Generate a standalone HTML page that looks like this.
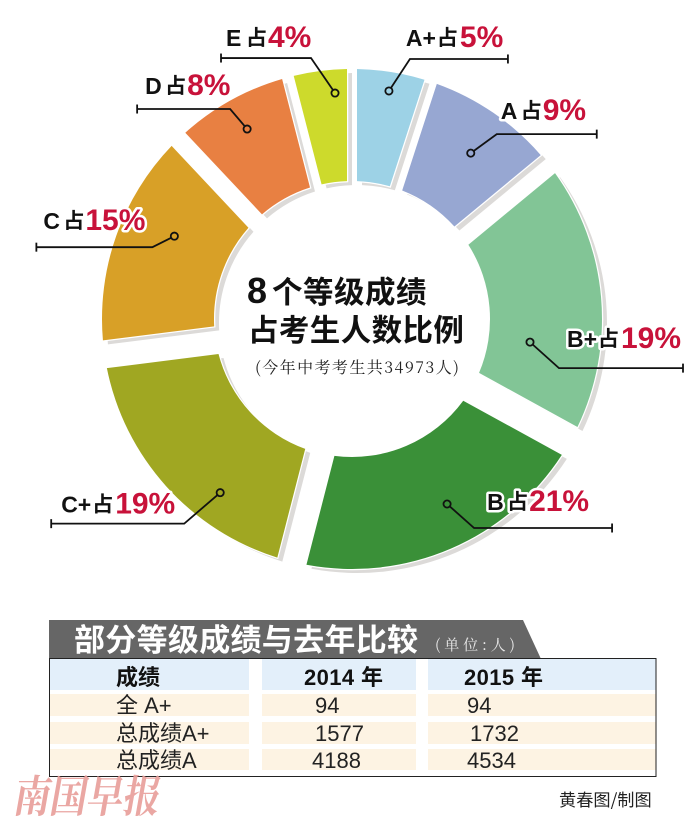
<!DOCTYPE html>
<html lang="zh">
<head>
<meta charset="utf-8">
<title>8个等级成绩占考生人数比例</title>
<style>
html,body{margin:0;padding:0;background:#fff;}
body{width:696px;height:824px;overflow:hidden;}
svg{display:block;}
text{font-family:"Liberation Sans","Noto Sans CJK SC",sans-serif;}
.cjk{font-family:"Noto Sans CJK SC","Liberation Sans",sans-serif;}
.thin{font-family:"Noto Serif CJK SC","Liberation Serif",serif;}
.cell{font-size:22px;fill:#222;}
.head{font-size:22px;font-weight:700;fill:#111;}
</style>
</head>
<body>
<svg id="chart" xmlns="http://www.w3.org/2000/svg" width="696" height="824" viewBox="0 0 696 824">
  <g id="donut"></g>
  <g id="center-title">
    <text x="247" y="303" font-size="36" font-weight="700" fill="#111">8</text>
    <text class="cjk" x="272" y="303" font-size="30.5" font-weight="700" fill="#111" letter-spacing="0.5">个等级成绩</text>
    <text class="cjk" x="248" y="341" font-size="30.5" font-weight="700" fill="#111" letter-spacing="0.4">占考生人数比例</text>
    <text class="thin" x="255" y="373" font-size="16" fill="#222" textLength="204" lengthAdjust="spacing">(今年中考考生共34973人)</text>
  </g>
  <g id="table">
    <polygon points="49,620 523,620 541,659 49,659" fill="#666666"/>
    <text class="cjk" x="74" y="651" font-size="31" font-weight="700" fill="#fff" letter-spacing="0.3">部分等级成绩与去年比较</text>
    <text class="thin" x="435" y="650" font-size="15" fill="#e8e8e8" textLength="80" lengthAdjust="spacing">(单位:人)</text>
    <rect x="49.5" y="658.5" width="606.5" height="118" fill="#fff" stroke="#222" stroke-width="1"/>
    <rect x="50" y="659" width="199" height="31" fill="#e3effa"/>
    <rect x="262" y="659" width="154" height="31" fill="#e3effa"/>
    <rect x="428" y="659" width="227.5" height="31" fill="#e3effa"/>
    <rect x="50" y="694" width="199" height="22" fill="#fdf3e3"/>
    <rect x="262" y="694" width="154" height="22" fill="#fdf3e3"/>
    <rect x="428" y="694" width="227.5" height="22" fill="#fdf3e3"/>
    <rect x="50" y="722" width="199" height="22" fill="#fdf3e3"/>
    <rect x="262" y="722" width="154" height="22" fill="#fdf3e3"/>
    <rect x="428" y="722" width="227.5" height="22" fill="#fdf3e3"/>
    <rect x="50" y="749" width="199" height="21" fill="#fdf3e3"/>
    <rect x="262" y="749" width="154" height="21" fill="#fdf3e3"/>
    <rect x="428" y="749" width="227.5" height="21" fill="#fdf3e3"/>
    <text class="head cjk" x="116" y="685">成绩</text>
    <text class="head" x="304" y="685" letter-spacing="0.4">2014 年</text>
    <text class="head" x="464" y="685" letter-spacing="0.4">2015 年</text>
    <text class="cell" x="116" y="713">全 A+</text>
    <text class="cell" x="315" y="713">94</text>
    <text class="cell" x="467" y="713">94</text>
    <text class="cell" x="116" y="741">总成绩A+</text>
    <text class="cell" x="315" y="741">1577</text>
    <text class="cell" x="470" y="741">1732</text>
    <text class="cell" x="116" y="768">总成绩A</text>
    <text class="cell" x="312" y="768">4188</text>
    <text class="cell" x="467" y="768">4534</text>
  </g>
  <text class="cjk" x="559" y="806" font-size="17.2" fill="#222">黄春图/制图</text>
  <text class="thin" transform="translate(12,812) scale(0.83,1) skewX(-12)" font-size="44" font-weight="700" fill="#e9a09c" opacity="0.92">南国早报</text>
</svg>
<script>
// Chart data
var categories = ['A+', 'A', 'B+', 'B', 'C+', 'C', 'D', 'E'];
var shares = [5, 9, 19, 21, 19, 15, 8, 4];

// Styling and layout (separate from the data)
var sliceColors = ['#9dd2e6', '#97a7d2', '#82c596', '#3a9038', '#a0a722', '#d8a027', '#e88042', '#cdda2c'];
var startTrims = [5, 8, 17, 18, 13, 10, 6, 4];
var endTrims = [5, 6, 14, 17, 18, 13, 8, 5];
var leaderLayout = [
  {r: 231, da: 0.2, ex: 21, ey: -32, end: 119, tx: 17, ty: -45},
  {r: 204, da: 1.4, ex: 26, ey: -19, end: 126, tx: 30, ty: -34},
  {r: 179.5, da: 12.8, ex: 29, ey: 26, end: 153, tx: 37, ty: 5},
  {r: 208, da: -3.8, ex: 27, ey: 24, end: 165, tx: 40, ty: 6},
  {r: 218, da: -11.4, ex: -36, ey: 31, end: -169, tx: -159, ty: 20},
  {r: 196, da: 5.2, ex: -22, ey: 11, end: -138, tx: -131, ty: -7},
  {r: 217, da: -0.1, ex: -17, ey: -20, end: -110, tx: -102, ty: -35},
  {r: 226.6, da: 2.9, ex: -24, ey: -35, end: -114, tx: -109, ty: -47}
];
var CX = 352, CY = 319, OUTER = 250, INNER = 138;
var NS = 'http://www.w3.org/2000/svg';
var donut = document.getElementById('donut');

function shareTotal() {
  var t = 0;
  for (var i = 0; i < shares.length; i++) t += shares[i];
  return t;
}
function angleScale(v) { return v / shareTotal() * 360; }
function polar(deg, rad) {
  var a = deg * Math.PI / 180;
  return [CX + rad * Math.sin(a), CY - rad * Math.cos(a)];
}
function trimDeg(trim, rad) { return Math.asin(trim / rad) * 180 / Math.PI; }
function wedgePath(a0, a1, sTrim, eTrim) {
  var p1 = polar(a0 + trimDeg(sTrim, OUTER), OUTER);
  var p2 = polar(a1 - trimDeg(eTrim, OUTER), OUTER);
  var p3 = polar(a1 - trimDeg(eTrim, INNER), INNER);
  var p4 = polar(a0 + trimDeg(sTrim, INNER), INNER);
  var large = (a1 - a0) > 180 ? 1 : 0;
  return 'M' + p1[0].toFixed(2) + ' ' + p1[1].toFixed(2) +
    ' A' + OUTER + ' ' + OUTER + ' 0 ' + large + ' 1 ' + p2[0].toFixed(2) + ' ' + p2[1].toFixed(2) +
    ' L' + p3[0].toFixed(2) + ' ' + p3[1].toFixed(2) +
    ' A' + INNER + ' ' + INNER + ' 0 ' + large + ' 0 ' + p4[0].toFixed(2) + ' ' + p4[1].toFixed(2) + ' Z';
}
function make(tag, attrs, parent) {
  var el = document.createElementNS(NS, tag);
  for (var k in attrs) el.setAttribute(k, attrs[k]);
  (parent || donut).appendChild(el);
  return el;
}

var bounds = [], running = 0;
for (var i = 0; i < shares.length; i++) {
  bounds.push([angleScale(running), angleScale(running + shares[i])]);
  running += shares[i];
}

// shadows
for (var i = 0; i < shares.length; i++) {
  var sh = make('path', {d: wedgePath(bounds[i][0], bounds[i][1], startTrims[i], endTrims[i]), fill: '#dcdad8', transform: 'translate(5,4)'});
  
  
}
// slices
for (var i = 0; i < shares.length; i++) {
  var w = make('path', {d: wedgePath(bounds[i][0], bounds[i][1], startTrims[i], endTrims[i]), fill: sliceColors[i], stroke: '#fff', 'stroke-width': 2.5, 'paint-order': 'stroke'});
  
  
}
// labels
for (var i = 0; i < shares.length; i++) {
  var lay = leaderLayout[i];
  var mid = (bounds[i][0] + bounds[i][1]) / 2 + lay.da;
  var dot = polar(mid, lay.r);
  var tx = dot[0] + lay.tx, ty = dot[1] + lay.ty;
  var plus = categories[i].length > 1;
  var offZhan = plus ? 31 : 20;
  var offPct = plus ? 54 : 42;
  var t = make('text', {y: ty, stroke: '#fff', 'stroke-width': 5, 'stroke-linejoin': 'round', 'paint-order': 'stroke'});
  
  
  var s1 = make('tspan', {x: tx, 'font-size': 23, 'font-weight': 700, fill: '#111'}, t);
  s1.textContent = categories[i];
  var s2 = make('tspan', {x: tx + offZhan, dy: -1, 'font-size': 21, 'font-weight': 700, fill: '#111'}, t);
  s2.textContent = '占';
  var s3 = make('tspan', {x: tx + offPct, dy: 2, 'font-size': 30, 'font-weight': 700, fill: '#c8123a'}, t);
  s3.textContent = shares[i] + '%';
}
// leader lines
for (var i = 0; i < shares.length; i++) {
  var lay = leaderLayout[i];
  var mid = (bounds[i][0] + bounds[i][1]) / 2 + lay.da;
  var dot = polar(mid, lay.r);
  var ex = dot[0] + lay.ex, ey = dot[1] + lay.ey, endX = dot[0] + lay.end;
  var line = make('polyline', {points: dot[0] + ',' + dot[1] + ' ' + ex + ',' + ey + ' ' + endX + ',' + ey, fill: 'none', stroke: '#111', 'stroke-width': 1.8});
  
  
  var tick = make('line', {x1: endX, x2: endX, y1: ey - 4.5, y2: ey + 4.5, stroke: '#111', 'stroke-width': 1.8});
  
  
  var c = make('circle', {cx: dot[0], cy: dot[1], r: 3.6, fill: sliceColors[i], stroke: '#111', 'stroke-width': 1.8});
  
  
}
</script>
</body>
</html>
